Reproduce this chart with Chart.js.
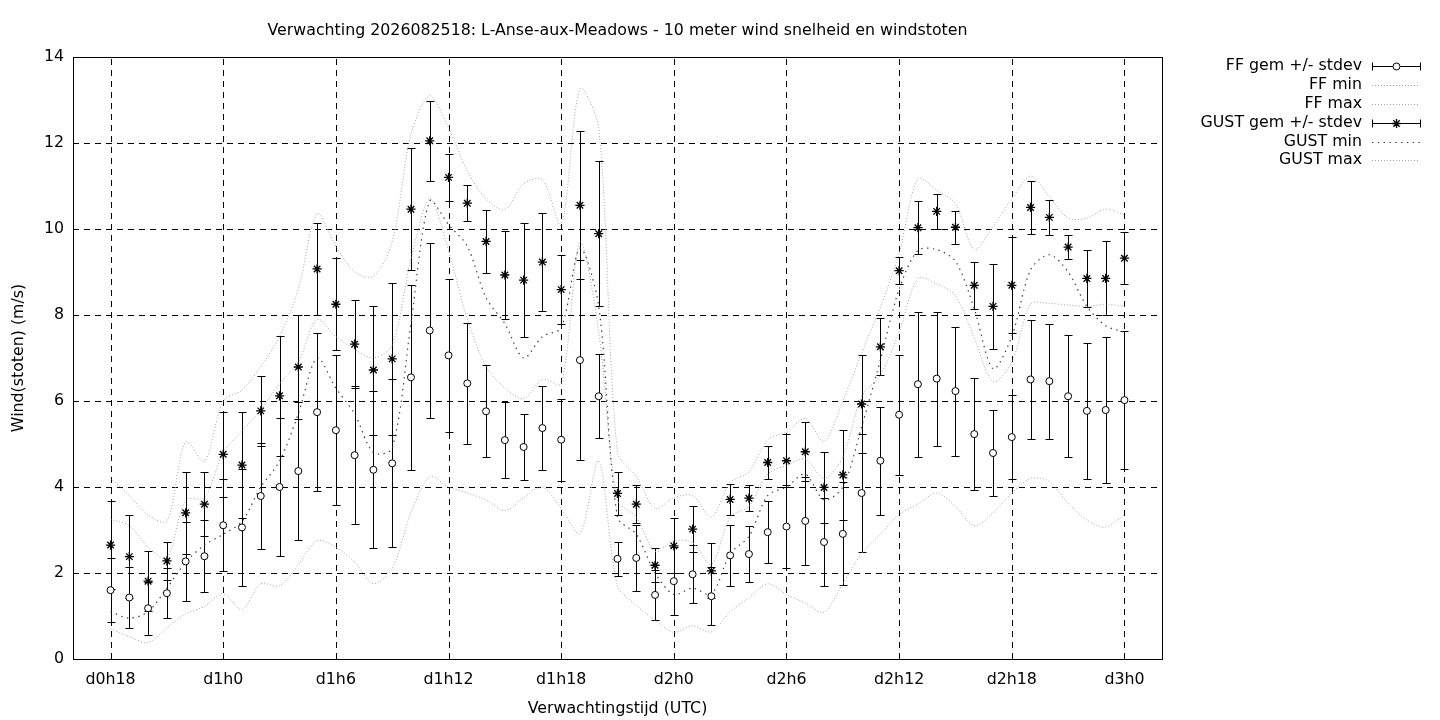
<!DOCTYPE html>
<html>
<head>
<meta charset="utf-8">
<script src="https://cdn.jsdelivr.net/npm/chart.js@4.4.1/dist/chart.umd.min.js"></script>
<style>
html,body{margin:0;padding:0;background:#fff;}
#wrap{width:1440px;height:720px;}
</style>
</head>
<body>
<div id="wrap"><canvas id="c" width="1440" height="720"></canvas></div>
<script>
// forecast hours (categories)
const hours = [18,19,20,21,22,23,24,25,26,27,28,29,30,31,32,33,34,35,36,37,38,39,40,41,42,43,44,45,
  46,47,48,49,50,51,52,53,54,55,56,57,58,59,60,61,62,63,64,65,66,67,68,69,70,71,72];

const ffMean = [1.60,1.43,1.18,1.53,2.27,2.39,3.11,3.06,3.79,4.00,4.37,5.74,5.32,4.74,4.40,4.55,6.55,7.64,
  7.06,6.41,5.76,5.09,4.93,5.37,5.10,6.95,6.11,2.33,2.35,1.49,1.81,1.97,1.46,2.41,2.44,2.95,3.08,3.21,
  2.72,2.91,3.86,4.61,5.68,6.39,6.52,6.23,5.23,4.79,5.16,6.50,6.46,6.11,5.77,5.79,6.02];
const ffStd = [0.74,0.72,0.62,0.58,0.92,0.84,1.07,1.36,1.23,1.60,1.61,1.83,1.74,1.61,1.83,1.95,2.15,2.04,
  1.78,1.40,1.07,0.89,0.77,0.97,0.95,2.33,0.98,0.39,0.77,0.58,0.79,0.67,0.67,0.71,0.66,0.72,0.96,1.02,
  1.02,1.20,1.37,1.26,1.39,1.69,1.56,1.50,1.30,0.99,0.97,1.38,1.34,1.42,1.58,1.70,1.61];
const ffMin = [0.70,0.52,0.38,0.72,1.05,1.22,1.52,1.15,1.75,1.70,2.20,2.75,2.60,2.25,1.75,2.10,3.40,4.24,
  4.00,3.86,3.70,3.45,3.75,4.00,3.50,2.92,4.61,1.70,1.25,0.90,0.62,0.77,0.63,1.10,1.42,1.75,1.50,1.30,
  1.09,1.75,2.45,2.90,3.36,3.60,3.86,3.55,3.10,3.40,3.86,4.20,4.13,3.62,3.23,3.07,3.35];
const ffMax = [3.25,3.10,2.60,2.35,3.70,3.75,4.80,5.30,5.80,6.40,6.90,7.90,7.50,7.20,7.00,7.30,9.30,10.70,
  9.50,7.90,6.80,6.30,6.05,6.50,6.40,9.70,7.60,3.70,3.30,2.50,2.75,2.70,2.20,3.30,3.55,4.30,4.50,4.65,
  4.20,4.70,6.10,6.60,7.60,8.85,8.72,8.45,7.47,6.45,6.90,8.25,8.27,8.23,8.20,8.25,8.20];

const gustMean = [2.65,2.38,1.81,2.28,3.40,3.60,4.76,4.51,5.77,6.12,6.79,9.07,8.25,7.32,6.72,6.98,10.46,12.05,
  11.20,10.60,9.71,8.93,8.81,9.23,8.59,10.55,9.89,3.85,3.60,2.18,2.63,3.02,2.05,3.71,3.74,4.57,4.61,4.82,
  3.99,4.28,5.93,7.26,9.03,10.03,10.41,10.04,8.69,8.20,8.69,10.50,10.27,9.58,8.85,8.85,9.32];
const gustStd = [1.03,0.96,0.70,0.45,0.95,0.74,0.99,1.23,0.82,1.40,1.20,1.08,1.07,1.02,1.50,1.76,1.42,0.93,
  0.55,0.42,0.74,1.02,1.33,1.14,0.81,1.72,1.69,0.51,0.44,0.39,0.64,0.53,0.64,0.36,0.30,0.38,0.62,0.69,
  0.82,1.05,1.14,0.66,0.31,0.62,0.40,0.38,0.54,0.99,1.12,0.62,0.41,0.28,0.66,0.86,0.60];
const gustMin = [1.10,0.95,1.10,1.65,2.25,2.65,2.90,3.20,4.00,4.60,5.70,7.00,6.30,5.70,4.80,4.90,7.80,10.65,
  10.10,9.60,8.40,7.80,7.00,7.50,7.70,9.55,8.20,3.30,2.90,2.00,1.50,1.65,1.50,2.45,2.85,3.80,4.00,4.30,
  3.70,4.00,5.40,6.95,8.60,9.50,9.52,9.25,8.15,6.75,7.50,9.05,9.40,9.00,8.20,7.75,7.60];
const gustMax = [4.20,3.80,3.35,3.20,5.05,4.60,6.00,6.25,6.80,7.50,8.60,10.35,9.60,9.00,8.90,9.70,12.20,13.10,
  12.35,11.35,10.70,10.45,11.05,11.15,10.10,13.25,12.35,4.80,4.25,3.50,3.75,3.80,3.30,4.10,4.35,5.10,5.28,5.59,
  5.06,6.00,7.11,8.18,9.43,11.17,10.90,10.59,9.52,10.06,10.70,11.23,10.75,10.25,10.25,10.46,10.33];

const xTickValues = [18,24,30,36,42,48,54,60,66,72];
const xTickLabels = ['d0h18','d1h0','d1h6','d1h12','d1h18','d2h0','d2h6','d2h12','d2h18','d3h0'];
const yTickValues = [0,2,4,6,8,10,12,14];

const FONT = "'DejaVu Sans', 'Liberation Sans', sans-serif";
const FSIZE = 15.8;
const LIGHT = '#a4a4a4';
const DARK = '#3a3a3a';
const lineStyles = {
  ffMin:  {color: LIGHT, dash: [1, 2], width: 1},
  ffMax:  {color: LIGHT, dash: [1, 2], width: 1},
  gustMin:{color: DARK,  dash: [1.4, 4.4], width: 1.2},
  gustMax:{color: LIGHT, dash: [1, 2], width: 1}
};
const toPts = arr => hours.map((h, i) => ({x: h, y: arr[i]}));

Chart.defaults.font.family = FONT;
Chart.defaults.color = '#000';

function drawStar(ctx, x, y, r) {
  ctx.beginPath();
  ctx.moveTo(x - r, y); ctx.lineTo(x + r, y);
  ctx.moveTo(x, y - r); ctx.lineTo(x, y + r);
  const d = r * 0.7071;
  ctx.moveTo(x - d, y - d); ctx.lineTo(x + d, y + d);
  ctx.moveTo(x - d, y + d); ctx.lineTo(x + d, y - d);
  ctx.stroke();
}

const gnuplotPlugin = {
  id: 'gnuplotLook',
  beforeDatasetsDraw(chart) {
    const {ctx, chartArea: a, scales: {x, y}} = chart;
    ctx.save();
    ctx.strokeStyle = '#000';
    ctx.lineWidth = 1;
    ctx.setLineDash([6, 5]);
    yTickValues.forEach(v => {
      const py = Math.round(y.getPixelForValue(v)) + 0.5;
      ctx.beginPath(); ctx.moveTo(a.left, py); ctx.lineTo(a.right, py); ctx.stroke();
    });
    xTickValues.forEach(v => {
      const px = Math.round(x.getPixelForValue(v)) + 0.5;
      ctx.beginPath(); ctx.moveTo(px, a.bottom); ctx.lineTo(px, a.top); ctx.stroke();
    });
    ctx.setLineDash([]);
    const bars = (mean, std) => {
      hours.forEach((h, i) => {
        const px = Math.round(x.getPixelForValue(h)) + 0.5;
        const lo = Math.round(y.getPixelForValue(mean[i] - std[i])) + 0.5;
        const hi = Math.round(y.getPixelForValue(mean[i] + std[i])) + 0.5;
        ctx.beginPath();
        ctx.moveTo(px, lo); ctx.lineTo(px, hi);
        ctx.moveTo(px - 4, lo); ctx.lineTo(px + 4, lo);
        ctx.moveTo(px - 4, hi); ctx.lineTo(px + 4, hi);
        ctx.stroke();
      });
    };
    bars(ffMean, ffStd);
    bars(gustMean, gustStd);
    ctx.restore();
  },
  afterDraw(chart) {
    const {ctx, chartArea: a} = chart;
    ctx.save();
    ctx.strokeStyle = '#000';
    ctx.lineWidth = 1;
    ctx.setLineDash([]);
    ctx.strokeRect(Math.round(a.left) + 0.5, Math.round(a.top) + 0.5,
      Math.round(a.right - a.left), Math.round(a.bottom - a.top));
    // key
    const rows = [
      {label: 'FF gem +/- stdev', kind: 'err', mark: 'circle'},
      {label: 'FF min', kind: 'line', st: lineStyles.ffMin},
      {label: 'FF max', kind: 'line', st: lineStyles.ffMax},
      {label: 'GUST gem +/- stdev', kind: 'err', mark: 'star'},
      {label: 'GUST min', kind: 'line', st: lineStyles.gustMin},
      {label: 'GUST max', kind: 'line', st: lineStyles.gustMax}
    ];
    const rowY = [66, 85, 104, 123, 142, 160];
    ctx.font = FSIZE + 'px ' + FONT;
    ctx.textAlign = 'right';
    ctx.textBaseline = 'middle';
    ctx.fillStyle = '#000';
    rows.forEach((r, i) => {
      const yy = rowY[i] + 0.5;
      ctx.fillText(r.label, 1362, rowY[i]);
      if (r.kind === 'err') {
        ctx.strokeStyle = '#000'; ctx.lineWidth = 1; ctx.setLineDash([]);
        ctx.beginPath();
        ctx.moveTo(1372.5, yy); ctx.lineTo(1420.5, yy);
        ctx.moveTo(1372.5, yy - 4); ctx.lineTo(1372.5, yy + 4);
        ctx.moveTo(1420.5, yy - 4); ctx.lineTo(1420.5, yy + 4);
        ctx.stroke();
        if (r.mark === 'circle') {
          ctx.beginPath(); ctx.arc(1396.5, yy, 3.5, 0, Math.PI * 2);
          ctx.fillStyle = '#fff'; ctx.fill(); ctx.stroke(); ctx.fillStyle = '#000';
        } else {
          ctx.lineWidth = 1.3;
          drawStar(ctx, 1396.5, yy, 4.5);
        }
      } else {
        ctx.strokeStyle = r.st.color; ctx.lineWidth = r.st.width; ctx.setLineDash(r.st.dash);
        ctx.beginPath(); ctx.moveTo(1372, yy); ctx.lineTo(1420, yy); ctx.stroke();
        ctx.setLineDash([]);
      }
    });
    ctx.restore();
  }
};

const lineDs = (label, arr, st, order) => ({
  label, data: toPts(arr), borderColor: st.color, borderWidth: st.width, borderDash: st.dash,
  pointRadius: 0, tension: 0.3, fill: false, order
});

new Chart(document.getElementById('c'), {
  type: 'line',
  data: {
    datasets: [
      {label: 'FF gem +/- stdev', data: toPts(ffMean), showLine: false, pointStyle: 'circle',
       pointRadius: 3.5, pointBackgroundColor: '#fff', pointBorderColor: '#000', pointBorderWidth: 1, order: 0},
      {label: 'GUST gem +/- stdev', data: toPts(gustMean), showLine: false, pointStyle: 'star',
       pointRadius: 4.6, pointBackgroundColor: '#000', pointBorderColor: '#000', pointBorderWidth: 1.3, order: 1},
      lineDs('FF min', ffMin, lineStyles.ffMin, 5),
      lineDs('FF max', ffMax, lineStyles.ffMax, 4),
      lineDs('GUST min', gustMin, lineStyles.gustMin, 3),
      lineDs('GUST max', gustMax, lineStyles.gustMax, 2)
    ]
  },
  options: {
    responsive: false,
    devicePixelRatio: 1,
    animation: false,
    events: [],
    layout: {padding: {left: 0, right: 278, top: 0, bottom: 0}},
    plugins: {
      legend: {display: false},
      tooltip: {enabled: false},
      title: {
        display: true, fullSize: false,
        text: 'Verwachting 2026082518: L-Anse-aux-Meadows - 10 meter wind snelheid en windstoten',
        font: {family: FONT, size: FSIZE, weight: 'normal'}, color: '#000',
        padding: {top: 21, bottom: 17}
      }
    },
    scales: {
      x: {
        type: 'linear', min: 16, max: 74,
        afterBuildTicks: s => { s.ticks = xTickValues.map(v => ({value: v})); },
        afterFit: s => { s.height = 61; },
        ticks: {
          callback: v => xTickLabels[xTickValues.indexOf(v)],
          font: {family: FONT, size: FSIZE}, color: '#000', padding: 11,
          maxRotation: 0, autoSkip: false
        },
        grid: {display: false, drawTicks: false},
        border: {display: false},
        title: {display: true, text: 'Verwachtingstijd (UTC)', font: {family: FONT, size: FSIZE},
                color: '#000', padding: {top: 0, bottom: 2}}
      },
      y: {
        type: 'linear', min: 0, max: 14,
        afterBuildTicks: s => { s.ticks = yTickValues.map(v => ({value: v})); },
        afterFit: s => { s.width = 73; },
        ticks: {font: {family: FONT, size: FSIZE}, color: '#000', padding: 9, callback: v => String(v)},
        grid: {display: false, drawTicks: false},
        border: {display: false},
        title: {display: true, text: 'Wind(stoten) (m/s)', font: {family: FONT, size: FSIZE},
                color: '#000', padding: {top: 9, bottom: 0}}
      }
    }
  },
  plugins: [gnuplotPlugin]
});
</script>
</body>
</html>
